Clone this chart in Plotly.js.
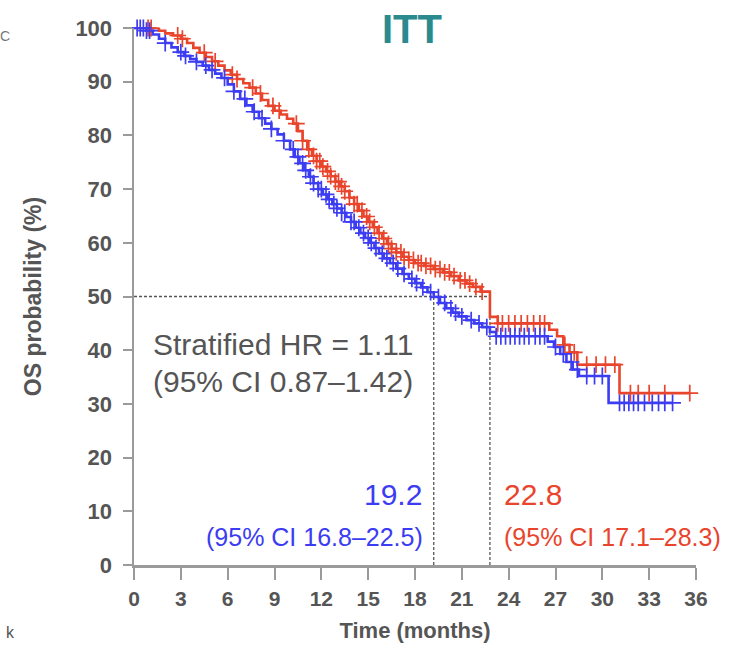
<!DOCTYPE html>
<html>
<head>
<meta charset="utf-8">
<script src="https://cdn.plot.ly/plotly-3.0.1.min.js"></script>
<style>
html,body{margin:0;padding:0;background:#fff;}
#chart{width:732px;height:646px;}
</style>
</head>
<body>
<div id="chart"></div>
<script>
// Red arm: KM step times (months) and survival (%)
const redTimes = [0,1.6,2.0,2.5,3.0,3.4,3.8,4.2,4.6,5.0,5.4,5.8,6.2,6.6,7.0,7.4,7.8,8.2,8.6,9.0,9.4,9.8,10.2,10.5,10.8,11.1,11.4,11.7,12.0,12.3,12.6,12.9,13.2,13.5,13.8,14.1,14.4,14.7,15.0,15.3,15.6,15.9,16.2,16.5,16.8,17.2,17.6,18.0,18.6,19.2,19.8,20.3,20.8,21.3,21.7,22.2,22.8,23.3,26.6,27.1,27.5,27.9,28.4,31.1,35.6];
const redSurv  = [100,99.5,99.0,98.6,98.0,97.2,96.3,95.4,94.6,93.8,93.0,92.1,91.3,90.5,89.7,88.9,87.8,86.6,85.5,84.6,83.9,83.1,82.2,80.8,79.0,77.4,76.2,75.2,74.2,73.3,72.4,71.4,70.5,69.6,68.4,67.2,66.0,64.9,63.9,62.9,61.8,60.8,59.8,58.9,58.2,57.4,56.8,56.2,55.7,55.1,54.5,53.8,53.0,52.4,51.8,50.9,46.2,45.0,43.8,42.6,41.0,39.6,37.3,32.0,32.0];
const redCensor = [0.9,1.1,2.8,3.1,4.5,5.2,6.3,6.6,7.6,8.1,8.9,9.3,10.4,10.8,11.2,11.5,11.7,11.9,12.1,12.4,12.6,12.9,13.1,13.3,13.5,13.8,14.1,14.3,14.6,14.9,15.1,15.4,15.7,16.0,16.3,16.5,16.8,17.1,17.3,17.6,17.9,18.2,18.4,18.7,19.0,19.3,19.6,19.9,20.2,20.5,20.9,21.2,21.5,21.9,22.3,23.3,23.6,24.0,24.4,24.8,25.2,25.6,26.0,26.3,27.6,28.2,29.0,29.6,30.2,30.8,31.8,32.3,33.0,34.0,35.6];

// Blue arm
const blueTimes = [0,0.8,1.2,1.6,2.0,2.4,2.8,3.2,3.6,4.0,4.4,4.8,5.2,5.6,6.0,6.4,6.8,7.2,7.6,8.0,8.4,8.8,9.2,9.6,10.0,10.3,10.6,10.9,11.2,11.5,11.8,12.1,12.4,12.7,13.0,13.3,13.6,13.9,14.2,14.5,14.8,15.1,15.4,15.7,16.0,16.4,16.8,17.2,17.6,18.0,18.4,18.8,19.2,19.6,20.0,20.4,20.8,21.3,21.8,22.3,22.8,23.2,26.5,26.9,27.3,27.7,28.1,28.5,30.4,34.5];
const blueSurv  = [100,99.5,98.8,98.0,97.2,96.4,95.5,94.8,94.2,93.7,93.0,92.2,91.5,90.7,89.5,88.2,86.8,85.6,84.4,83.2,82.2,81.2,80.2,79.0,77.4,76.0,74.8,73.5,72.3,71.1,70.0,69.0,68.1,67.2,66.4,65.6,64.8,63.9,62.8,61.8,60.9,60.0,59.0,58.0,57.1,56.2,55.2,54.2,53.3,52.5,51.7,50.8,49.9,48.8,47.8,47.0,46.3,45.6,45.0,44.3,43.4,42.6,41.6,40.6,39.3,37.8,36.4,35.2,30.2,30.2];
const blueCensor = [0.2,0.4,0.6,0.8,1.0,2.0,3.0,3.3,4.0,4.6,5.0,5.8,6.4,7.1,7.7,8.2,8.8,9.6,10.2,10.5,10.8,11.0,11.3,11.5,11.8,12.0,12.3,12.5,12.8,13.0,13.3,13.5,13.9,14.1,14.4,14.7,15.0,15.2,15.5,15.9,16.2,16.6,16.9,17.3,17.8,18.1,18.5,19.0,19.5,19.9,20.3,20.6,21.0,21.6,22.1,22.6,23.2,23.5,23.8,24.1,24.4,24.7,25.0,25.3,25.7,26.0,26.3,27.0,27.5,28.0,28.4,29.0,29.5,30.0,31.1,31.4,31.7,32.0,32.3,32.7,33.2,33.6,34.0,34.5];

const medians = [19.2, 22.8];
const xTicks = [0,3,6,9,12,15,18,21,24,27,30,33,36];
const yTicks = [0,10,20,30,40,50,60,70,80,90,100];

const RED = '#e9442c';
const BLUE = '#3c3cf2';
const GREY = '#555555';
const ARIAL = '"Liberation Sans", Arial, sans-serif';

function survAt(times, surv, t) {
  let s = surv[0];
  for (let i = 0; i < times.length; i++) { if (times[i] <= t) s = surv[i]; else break; }
  return s;
}

const traces = [
  {x: redTimes, y: redSurv, mode: 'lines', line: {shape: 'hv', color: RED, width: 2.6}, cliponaxis: false, hoverinfo: 'skip'},
  {x: blueTimes, y: blueSurv, mode: 'lines', line: {shape: 'hv', color: BLUE, width: 2.6}, cliponaxis: false, hoverinfo: 'skip'},
  {x: redCensor, y: redCensor.map(t => survAt(redTimes, redSurv, t)), mode: 'markers',
   marker: {symbol: 'cross-thin', size: 12, color: RED, line: {color: RED, width: 1.7}}, cliponaxis: false, hoverinfo: 'skip'},
  {x: blueCensor, y: blueCensor.map(t => survAt(blueTimes, blueSurv, t)), mode: 'markers',
   marker: {symbol: 'cross-thin', size: 12, color: BLUE, line: {color: BLUE, width: 1.7}}, cliponaxis: false, hoverinfo: 'skip'}
];

const dash = {color: '#555', width: 1.3, dash: '3px,2px'};
const shapes = [
  {type: 'line', xref: 'x', yref: 'y', x0: 0, x1: medians[1], y0: 50, y1: 50, line: dash, layer: 'below'},
  {type: 'line', xref: 'x', yref: 'y', x0: medians[0], x1: medians[0], y0: 0, y1: 50, line: dash, layer: 'below'},
  {type: 'line', xref: 'x', yref: 'y', x0: medians[1], x1: medians[1], y0: 0, y1: 50, line: dash, layer: 'below'}
];

const annotations = [
  {xref: 'x', yref: 'y', x: 1.1, y: 41.0, xanchor: 'left', yanchor: 'middle', showarrow: false,
   text: 'Stratified HR = 1.11', font: {family: ARIAL, size: 30, color: GREY}},
  {xref: 'x', yref: 'y', x: 1.1, y: 34.1, xanchor: 'left', yanchor: 'middle', showarrow: false,
   text: '(95% CI 0.87–1.42)', font: {family: ARIAL, size: 30, color: GREY}},
  {xref: 'x', yref: 'y', x: 18.6, y: 13.1, xanchor: 'right', yanchor: 'middle', showarrow: false,
   text: String(medians[0]), font: {family: ARIAL, size: 30, color: BLUE}},
  {xref: 'x', yref: 'y', x: 18.65, y: 5.2, xanchor: 'right', yanchor: 'middle', showarrow: false,
   text: '(95% CI 16.8–22.5)', font: {family: ARIAL, size: 25, color: BLUE}},
  {xref: 'x', yref: 'y', x: 23.55, y: 13.1, xanchor: 'left', yanchor: 'middle', showarrow: false,
   text: String(medians[1]), font: {family: ARIAL, size: 30, color: RED}},
  {xref: 'x', yref: 'y', x: 23.55, y: 5.2, xanchor: 'left', yanchor: 'middle', showarrow: false,
   text: '(95% CI 17.1–28.3)', font: {family: ARIAL, size: 25, color: RED}},
  {xref: 'paper', yref: 'paper', x: -136/562, y: 1 + (28-36)/537, xanchor: 'left', yanchor: 'middle', showarrow: false,
   text: 'C', font: {family: ARIAL, size: 14, color: '#777'}},
  {xref: 'paper', yref: 'paper', x: -130/562, y: -(632-565)/537, xanchor: 'left', yanchor: 'middle', showarrow: false,
   text: 'k', font: {family: ARIAL, size: 16, color: '#555'}}
];

const layout = {
  width: 732, height: 646,
  margin: {l: 134, r: 36, t: 28, b: 81},
  paper_bgcolor: '#fff', plot_bgcolor: '#fff',
  showlegend: false,
  title: {text: '<b>ITT</b>', font: {family: ARIAL, size: 40, color: '#2b8a8e'},
          x: 412/732, xanchor: 'center', xref: 'container', y: 1 - 29/646, yanchor: 'middle', yref: 'container'},
  xaxis: {range: [0, 36], tickvals: xTicks, ticktext: xTicks.map(String), showgrid: false, zeroline: false,
          showline: true, linecolor: '#9a9a9a', linewidth: 2.5, ticks: 'outside', ticklen: 12, tickwidth: 2, tickcolor: '#9a9a9a',
          tickfont: {family: ARIAL, size: 21, color: GREY, weight: 'bold'}, ticklabelstandoff: 1,
          title: {text: '<b>Time (months)</b>', font: {family: ARIAL, size: 22, color: GREY}, standoff: 14}},
  yaxis: {range: [0, 100], tickvals: yTicks, ticktext: yTicks.map(String), showgrid: false, zeroline: false,
          showline: true, linecolor: '#9a9a9a', linewidth: 2.5, ticks: 'outside', ticklen: 9, tickwidth: 2, tickcolor: '#9a9a9a',
          tickfont: {family: ARIAL, size: 22, color: GREY, weight: 'bold'}, ticklabelstandoff: 6,
          title: {text: '<b>OS probability (%)</b>', font: {family: ARIAL, size: 23, color: GREY}, standoff: 28}},
  shapes: shapes,
  annotations: annotations
};

Plotly.newPlot('chart', traces, layout, {displayModeBar: false, staticPlot: true});
</script>
</body>
</html>
